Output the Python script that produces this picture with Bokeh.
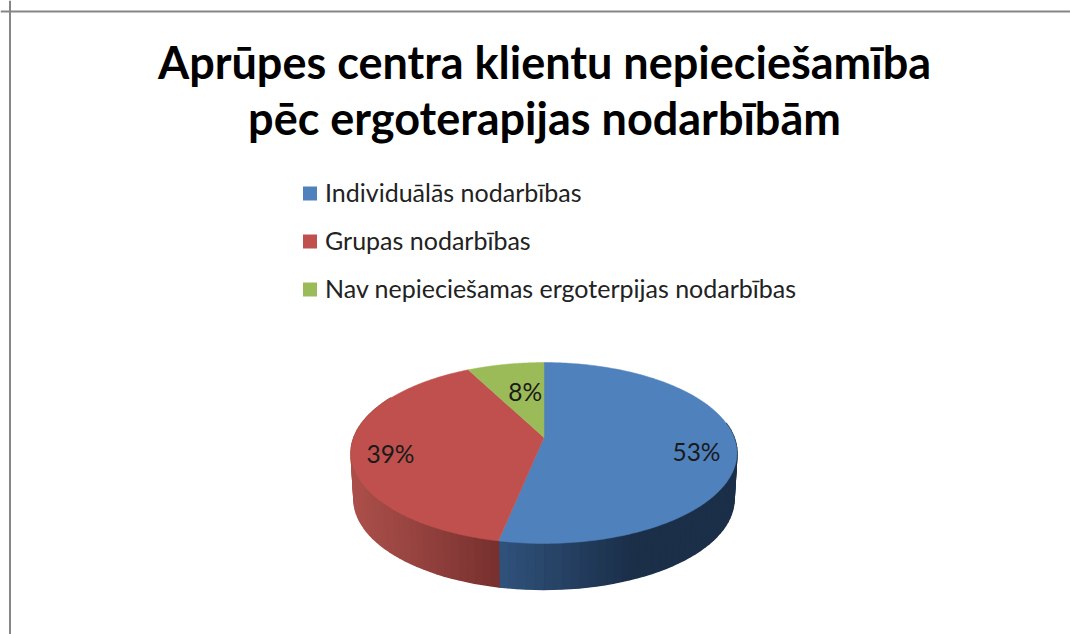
import numpy as np
from bokeh.plotting import figure
from bokeh.models import Range1d, Span
from bokeh.core.properties import value
from bokeh.embed import file_html
from bokeh.resources import INLINE

title_lines = ["Aprūpes centra klientu nepieciešamība", "pēc ergoterapijas nodarbībām"]
categories = ["Individuālās nodarbības", "Grupas nodarbības", "Nav nepieciešamas ergoterpijas nodarbības"]
shares = [53.2, 39.2, 7.6]
labels = ["53%", "39%", "8%"]
colors = ["#4f81bd", "#c0504d", "#9bbb59"]
wall_left = ["#30527c", "#ab4f4a", "#7f9a49"]
wall_right = ["#1b2f49", "#76302e", "#5f7530"]

W, H = 1070, 634
p = figure(width=W, height=H, x_range=Range1d(0, W), y_range=Range1d(H, 0),
           toolbar_location=None, output_backend="svg", min_border=0,
           x_axis_location=None, y_axis_location=None, outline_line_color=None,
           background_fill_color="white", border_fill_color="white")
p.grid.visible = False

p.add_layout(Span(location=9.5, dimension="height", line_color="#868686", line_width=2))
p.add_layout(Span(location=11, dimension="width", line_color="#868686", line_width=2))

FONT = "Lato"
for line, yc in zip(title_lines, [61, 117]):
    p.text([544], [yc], text=[line], text_font=value(FONT), text_font_style="bold",
           text_font_size="45px", text_color="#000000", text_align="center", text_baseline="middle")

for name, col, yc in zip(categories, colors, [193, 241, 289]):
    p.rect([309.5], [yc], width=14, height=14, fill_color=col, line_color=None)
    p.text([324.5], [yc - 2], text=[name], text_font=value(FONT), text_font_size="25px",
           text_color="#222222", text_align="left", text_baseline="middle")

# perspective disc: apex of wedges sits above the centre of the drawn ellipse
CX, APEX_Y, A, B, K, DEPTH = 543.5, 437, 190.1, 87.8, 0.1713, 46


def rim(theta, r=1.0, scale=1.0, dy=0.0):
    u, v = np.sin(theta) * r, -np.cos(theta) * r
    w = 1 - K * v
    return CX + scale * A * u / w, APEX_Y + dy + B * v / w


def hex_mix(c1, c2, t):
    a = [int(c1[i:i + 2], 16) for i in (1, 3, 5)]
    b = [int(c2[i:i + 2], 16) for i in (1, 3, 5)]
    return "#%02x%02x%02x" % tuple(int(round(x + (y - x) * t)) for x, y in zip(a, b))


edges = np.cumsum([0] + shares) / sum(shares) * 2 * np.pi

# side wall
tan = np.pi / 2 - 0.17
for i in range(3):
    lo, hi = max(edges[i], tan), min(edges[i + 1], 2 * np.pi - tan + 0.34)
    if hi <= lo:
        continue
    steps = np.linspace(lo, hi, 50)
    sx, sy = rim(steps)
    xmin, xmax = sx.min(), sx.max()
    bx, by = rim(steps, scale=0.985, dy=DEPTH)
    xs, ys, cs = [], [], []
    for j in range(len(steps) - 1):
        xs.append([sx[j], sx[j + 1], bx[j + 1], bx[j]])
        ys.append([sy[j], sy[j + 1], by[j + 1], by[j]])
        mid = (sx[j] + sx[j + 1]) / 2
        t = (mid - xmin) / (xmax - xmin)
        if i == 0:
            t = min(1.0, t * 1.8)
        else:
            t = t ** 1.1
        cs.append(hex_mix(wall_left[i], wall_right[i], t))
    p.patches(xs, ys, fill_color=cs, line_color=cs, line_width=1.5)

# top face
for i in range(3):
    th = np.linspace(edges[i], edges[i + 1], 200)
    x, y = rim(th)
    p.patch([CX, *x], [APEX_Y, *y], fill_color=colors[i], line_color=colors[i], line_width=0.5)

# data labels
label_r = [0.795, 0.8, 0.45]
label_dy = [7, 6, -10]
for i in range(3):
    mid = (edges[i] + edges[i + 1]) / 2
    lx, ly = rim(mid, r=label_r[i], dy=label_dy[i])
    p.text([lx], [ly], text=[labels[i]], text_font=value(FONT), text_font_size="24.5px",
           text_color="#1a1a1a", text_align="center", text_baseline="middle")

open("out.html", "w").write(file_html(p, INLINE))
